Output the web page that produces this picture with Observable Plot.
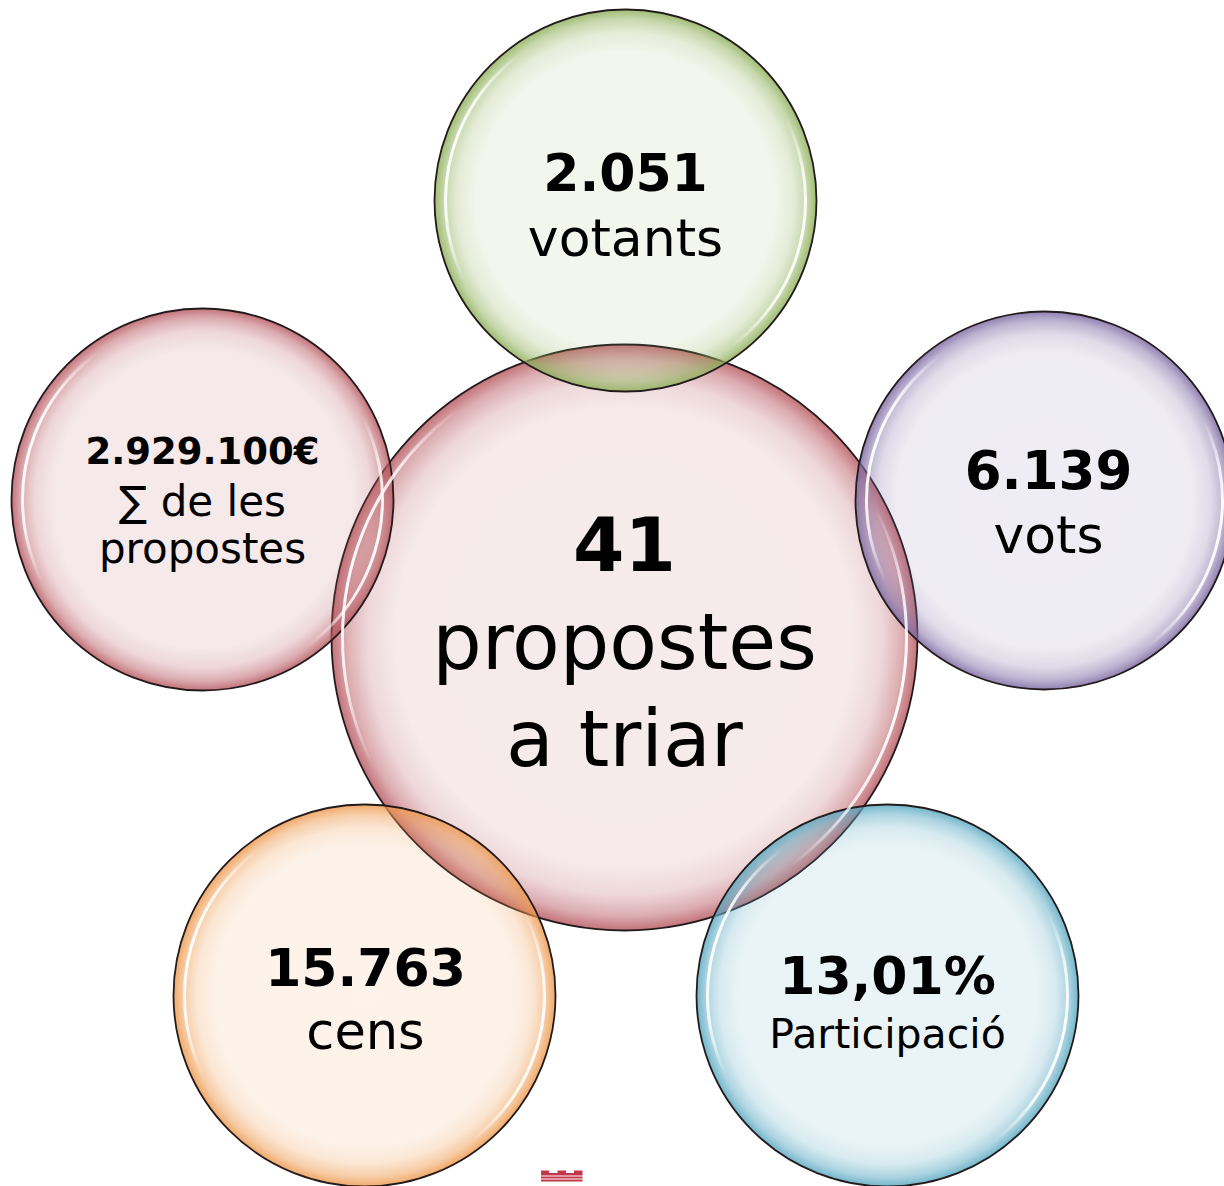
<!DOCTYPE html>
<html>
<head>
<meta charset="utf-8">
<script src="https://cdn.jsdelivr.net/npm/d3@7"></script>
<script src="https://cdn.jsdelivr.net/npm/@observablehq/plot@0.6"></script>
<style>
  html, body { margin: 0; padding: 0; background: #ffffff; overflow: hidden; }
  #chart svg { display: block; }
</style>
</head>
<body>
<svg id="defs" width="0" height="0" style="position:absolute"></svg>
<div id="chart"></div>
<script>
// ---- Data ----
const metrics = ["propostes", "votants", "suma", "vots", "cens", "participacio"];
const valueLabels = ["41", "2.051", "2.929.100€", "6.139", "15.763", "13,01%"];
const captionLines = [
  ["propostes", "a triar"],
  ["votants"],
  ["∑ de les", "propostes"],
  ["vots"],
  ["cens"],
  ["Participació"]
];

// ---- Layout (pixel space) ----
const bubbleX = [624, 625, 202, 1044, 364, 887];
const bubbleY = [637, 200, 499, 500, 995, 995];
const bubbleR = [293, 191, 191, 189, 191, 191];
const textX = [624, 625, 202, 1048, 365, 887];
const valueSize = [74, 52, 37, 53, 52, 52];
const captionSize = [78, 52, 42, 52, 51, 41];
const valueBaseline = [570, 190, 463, 488, 985, 993];
const captionBaselines = [[668, 765], [255], [515, 562], [552], [1048], [1047]];

// ---- Styles ----
const rimColors = ["#b85a62", "#8fb05a", "#b85a62", "#7d6aa3", "#ee9a4e", "#5aa9c2"];
const tintAlpha = [0.12, 0.11, 0.13, 0.12, 0.12, 0.125];

const W = 1224, H = 1186;

// gradients
const defs = d3.select("#defs").append("defs");
rimColors.forEach((c, i) => {
  const g = defs.append("radialGradient").attr("id", `fill-${i}`)
    .attr("cx", "50%").attr("cy", "50%").attr("r", "50%");
  [[0, tintAlpha[i]], [0.78, tintAlpha[i] * 1.05], [0.88, 0.24], [0.95, 0.5], [1, 0.85]]
    .forEach(([o, a]) => g.append("stop").attr("offset", o).attr("stop-color", c).attr("stop-opacity", a));
});
const hl = defs.append("linearGradient").attr("id", "highlight")
  .attr("x1", 0).attr("y1", 0.38).attr("x2", 1).attr("y2", 0.62);
[[0, 1], [0.05, 0.8], [0.13, 0], [0.87, 0], [0.95, 0.8], [1, 1]]
  .forEach(([o, a]) => hl.append("stop").attr("offset", o).attr("stop-color", "#ffffff").attr("stop-opacity", a));

const bubbles = metrics.map((m, i) => ({metric: m, x: bubbleX[i], y: bubbleY[i], r: bubbleR[i]}));

const valueRows = metrics.map((m, i) => ({text: valueLabels[i], x: textX[i], y: valueBaseline[i], size: valueSize[i]}));
const captionRows = metrics.flatMap((m, i) => captionLines[i].map((t, j) => ({
  text: t, x: textX[i], y: captionBaselines[i][j], size: captionSize[i]
})));

// logo (decoration at bottom)
const logoColor = "#c4364a";
const logoRects = [
  {x1: 541, x2: 549, y1: 1170.5, y2: 1173},
  {x1: 557.5, x2: 566, y1: 1170.5, y2: 1173},
  {x1: 574, x2: 582.5, y1: 1170.5, y2: 1173},
  {x1: 541, x2: 582.5, y1: 1173, y2: 1175.5},
  {x1: 541, x2: 582.5, y1: 1176.5, y2: 1178.5},
  {x1: 541, x2: 582.5, y1: 1179.5, y2: 1181.5}
];

const marks = [];
bubbles.forEach((b, i) => {
  marks.push(Plot.dot([b], {
    x: "x", y: "y", r: b.r,
    fill: `url(#fill-${i})`,
    stroke: "#231a1c", strokeWidth: 1.8
  }));
});
bubbles.forEach((b, i) => {
  marks.push(Plot.dot([b], {
    x: "x", y: "y", r: b.r - 11,
    fill: "none",
    stroke: "url(#highlight)", strokeWidth: 3
  }));
});
marks.push(Plot.text(valueRows, {
  x: "x", y: "y", text: "text", fontSize: "size",
  fontWeight: "bold", fontFamily: "DejaVu Sans", fill: "#000",
  lineAnchor: "bottom", textAnchor: "middle"
}));
marks.push(Plot.text(captionRows, {
  x: "x", y: "y", text: "text", fontSize: "size",
  fontFamily: "DejaVu Sans", fill: "#000",
  lineAnchor: "bottom", textAnchor: "middle"
}));
marks.push(Plot.rect(logoRects, {x1: "x1", x2: "x2", y1: "y1", y2: "y2", fill: logoColor}));

const chart = Plot.plot({
  width: W, height: H,
  margin: 0,
  x: {domain: [0, W], range: [0, W], axis: null},
  y: {domain: [0, H], range: [0, H], axis: null},
  style: {background: "#ffffff", overflow: "visible"},
  marks
});
document.getElementById("chart").appendChild(chart);
</script>
</body>
</html>
